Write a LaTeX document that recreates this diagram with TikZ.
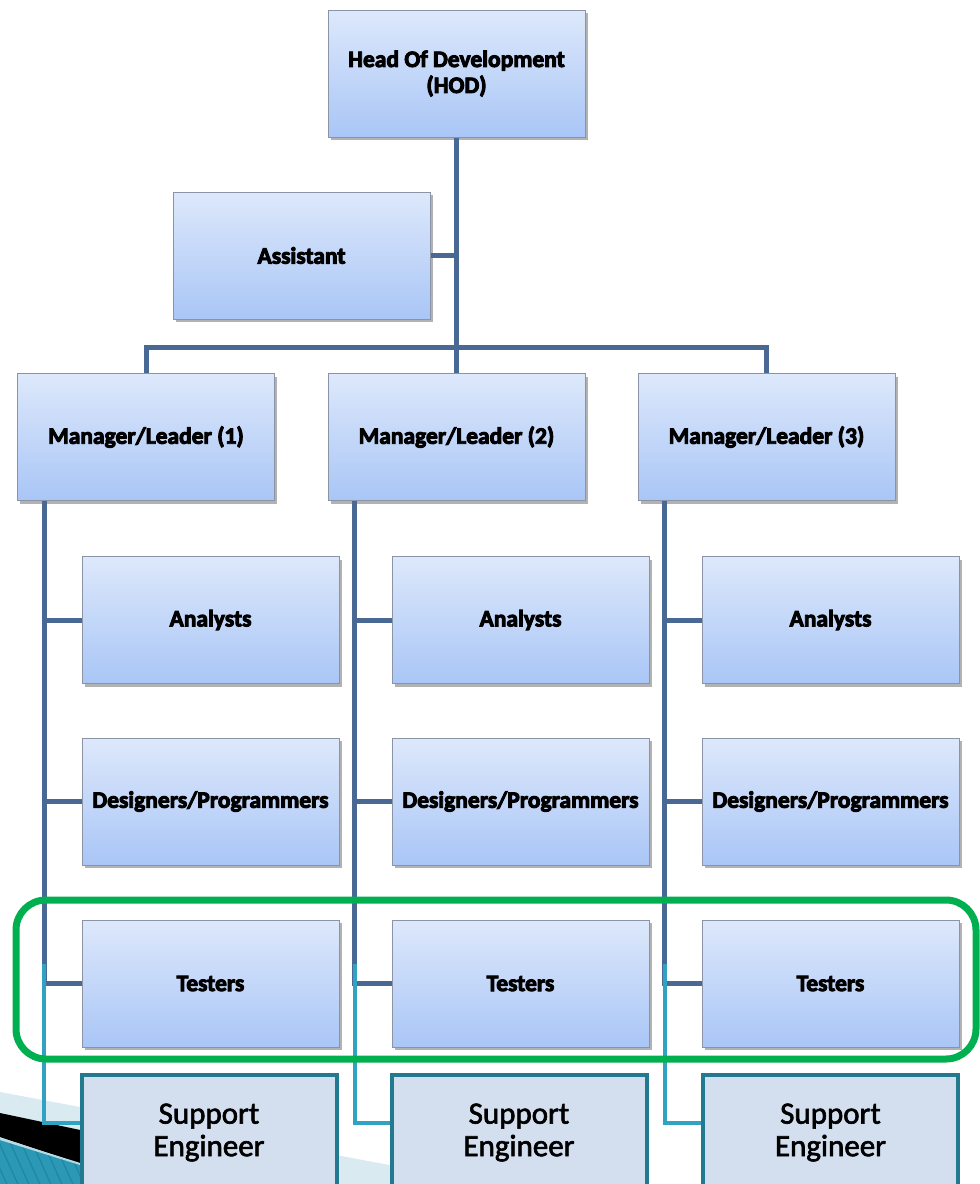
\documentclass[tikz,border=0pt]{standalone}
\usepackage{fontspec}
\setmainfont{Carlito}
\newfontfamily\heavyfont{Carlito Bold}[FakeBold=4]
\newfontfamily\supfont{Carlito}[FakeBold=2]
\usetikzlibrary{calc,shadows}

\definecolor{boxtop}{HTML}{DDE8FB}
\definecolor{boxbot}{HTML}{A9C6F6}
\definecolor{boxedge}{HTML}{8A94A6}
\definecolor{linkblue}{HTML}{4A6894}
\definecolor{linkcyan}{HTML}{2FA3C1}
\definecolor{framegreen}{HTML}{00B050}
\definecolor{supfill}{HTML}{D3DFEF}
\definecolor{supedge}{HTML}{217A8F}
\definecolor{bandlight}{HTML}{D9EAF1}
\definecolor{bandteal}{HTML}{2B98B6}
\definecolor{bandstripe}{HTML}{1F86A3}

% lower one line of box text a little below the geometric centre
\newcommand{\lowline}[2][2.5pt]{\raisebox{-#1}{#2}}

\tikzset{
  orgbox/.style={draw=boxedge, line width=1pt, top color=boxtop, bottom color=boxbot,
    minimum width=257pt, minimum height=127pt, inner sep=0pt, align=center,
    font=\heavyfont\fontsize{23.5}{26}\selectfont,
    drop shadow={shadow xshift=2.5pt, shadow yshift=-3pt, fill=black, opacity=0.3}},
  supbox/.style={draw=supedge, line width=4pt, fill=supfill,
    minimum width=255pt, minimum height=150pt, inner sep=0pt},
  suplabel/.style={align=center, inner sep=0pt, font=\supfont\fontsize{31}{32.5}\selectfont},
  link/.style={draw=linkblue, line width=5pt},
  supplink/.style={draw=linkcyan, line width=4pt},
  greenframe/.style={draw=framegreen, line width=7pt, rounded corners=30pt},
}

\begin{document}
\begin{tikzpicture}[x=1pt,y=-1pt]
\useasboundingbox (0,0) rectangle (980,1184);
\begin{scope}
\clip (0,0) rectangle (980,1184);

% slide decoration in the lower left corner
\fill[bandlight] (0,1092) -- (640,1212) -- (0,1212) -- cycle;
\fill[black] (0,1113) -- (340,1185) -- (340,1250) -- (0,1137) -- cycle;
\begin{scope}
  \clip (0,1139) -- (340,1245) -- (0,1245) -- cycle;
  \fill[bandteal] (0,1100) rectangle (340,1250);
  \foreach \i in {-8,...,30} \draw[bandstripe, line width=1.2pt] (\i*11,1120) -- ++(45,100);
\end{scope}
\draw[white!65!bandteal, line width=2pt] (0,1139) -- (340,1245);

% boxes
\node[orgbox] (hod)  at (456.5,73.5) {\lowline[3.5pt]{Head Of Development}\\\lowline[3.5pt]{(HOD)}};
\node[orgbox] (asst) at (301.5,255.5) {\lowline{Assistant}};
\node[orgbox] (m1) at (146,437) {\lowline{Manager/Leader (1)}};
\node[orgbox] (m2) at (456.5,437) {\lowline{Manager/Leader (2)}};
\node[orgbox] (m3) at (766.5,437) {\lowline{Manager/Leader (3)}};

\foreach \c/\x in {1/210.5, 2/520.5, 3/830.5} {
  \node[orgbox] (a\c) at (\x,620)   {\lowline{Analysts}};
  \node[orgbox] (d\c) at (\x,801.5) {\lowline{Designers/Programmers}};
  \node[orgbox] (t\c) at (\x,983.5) {\lowline[1.5pt]{Testers}};
}
\node[supbox] (s1) at (209,1150) {};
\node[supbox] (s2) at (519,1150) {};
\node[supbox] (s3) at (830.5,1150) {};
\foreach \c in {1,2,3}
  \node[suplabel] (s\c l) at ($(s\c.north)+(0,59.5)$) {Support\\Engineer};

% upper connectors
\coordinate (barY) at (0,347);
\draw[link] (hod.south) -- (m2.north);
\draw[link] (asst.east) -- (asst.east -| hod.south);
\draw[link] (m1.north) -- (m1.north |- barY) -- (m3.north |- barY) -- (m3.north);

% team connectors
\coordinate (cyTop) at (0,964);
\coordinate (cyBot) at (0,1123);
\foreach \c in {1,2,3} {
  \coordinate (v\c) at ($(m\c.south west)+(27,0)$);
  \draw[link] (v\c) |- (t\c.west);
  \draw[link] (v\c |- a\c.west) -- (a\c.west);
  \draw[link] (v\c |- d\c.west) -- (d\c.west);
  \draw[supplink] (v\c |- cyTop) -- (v\c |- cyBot) -- (s\c.west |- cyBot);
}

% highlight frame round the testers
\draw[greenframe] (16,900) rectangle (976,1059);
\end{scope}
\end{tikzpicture}
\end{document}
